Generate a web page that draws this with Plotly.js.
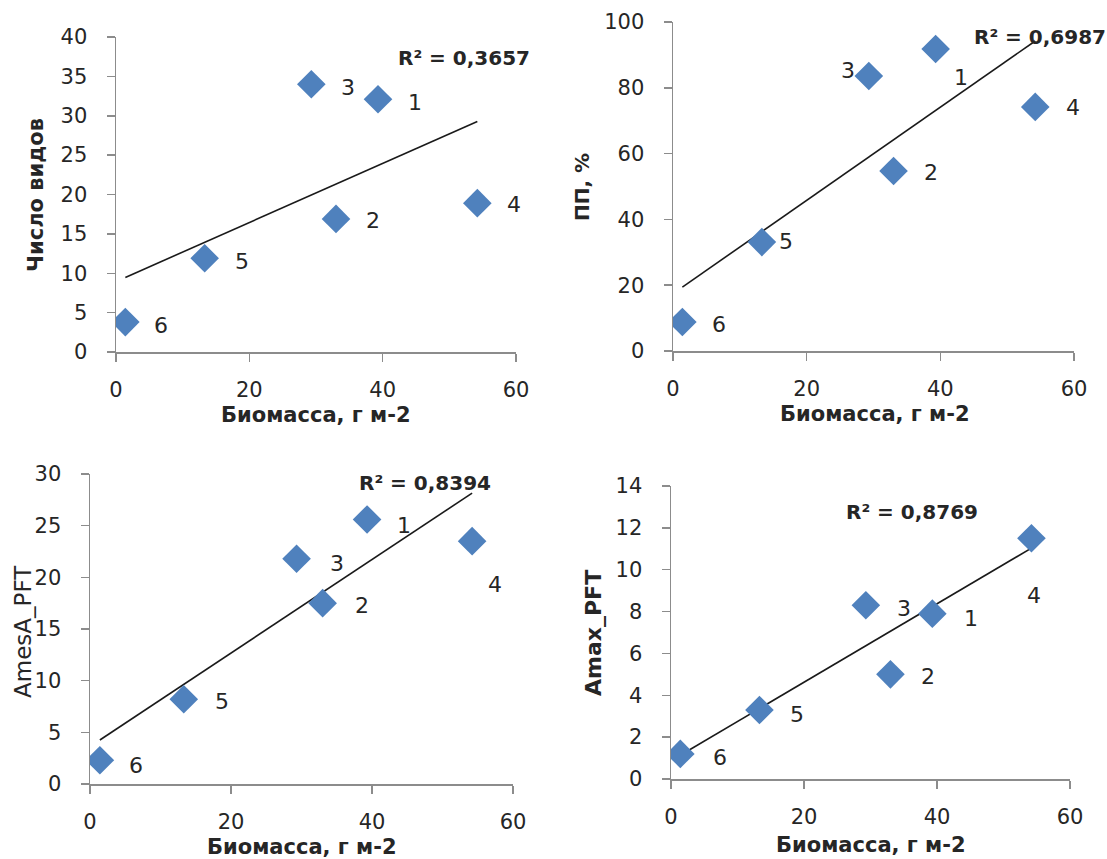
<!DOCTYPE html>
<html>
<head>
<meta charset="utf-8">
<script src="https://cdn.plot.ly/plotly-3.0.1.min.js"></script>
<style>
  html, body { margin: 0; padding: 0; background: #ffffff; }
  #chart { width: 1107px; height: 859px; }
</style>
</head>
<body>
<div id="chart"></div>
<script>
// ---- Data ----
const pointLabels = ['1', '2', '3', '4', '5', '6'];
const biomass = [39.3, 33.0, 29.3, 54.2, 13.3, 1.4];          // Биомасса, г м-2
const speciesCount = [32.1, 16.9, 34.0, 18.9, 11.9, 3.8];     // Число видов
const ppPercent = [91.8, 54.7, 83.6, 74.2, 33.1, 8.8];        // ПП, %
const amesA = [25.6, 17.5, 21.8, 23.5, 8.2, 2.3];             // AmesA_PFT
const amax = [7.9, 5.0, 8.3, 11.5, 3.3, 1.2];                 // Amax_PFT
const r2Labels = ['R² = 0,3657', 'R² = 0,6987', 'R² = 0,8394', 'R² = 0,8769'];
const yTitles = ['Число видов', 'ПП, %', 'AmesA_PFT', 'Amax_PFT'];
const xTitle = 'Биомасса, г м-2';
const xTicks = [0, 20, 40, 60];

// ---- Presentation config ----
const W = 1107, H = 859;
const FONT = 'DejaVu Sans, Arial, sans-serif';
const TXT = '#262626';
const series = [speciesCount, ppPercent, amesA, amax];
const panels = [
  { px: [116, 516], py: [352, 37],  yr: [0, 40],  dt: 5,
    r2: [464, 58], xt: [316, 415], yt: [36, 195], yBold: true, ySize: 21,
    off: [[37, 3], [37, 2], [37, 3], [37, 1], [37, 3], [36, 3]] },
  { px: [673, 1074], py: [351, 22], yr: [0, 100], dt: 20,
    r2: [1040, 37], xt: [875, 414], yt: [582, 187], yBold: true, ySize: 20,
    off: [[25, 29], [37, 1], [-21, -5], [38, 1], [24, -1], [37, 2]] },
  { px: [90, 513], py: [784, 474],  yr: [0, 30],  dt: 5,
    r2: [425, 483], xt: [302, 847], yt: [23, 632], yBold: false, ySize: 23,
    off: [[37, 6], [39, 2], [40, 5], [23, 43], [38, 2], [36, 5]] },
  { px: [671, 1070], py: [779, 486], yr: [0, 14], dt: 2,
    r2: [912, 512], xt: [871, 845], yt: [593, 633], yBold: true, ySize: 22,
    off: [[39, 5], [38, 2], [38, 3], [3, 57], [38, 5], [40, 4]] }
];

function linFit(xs, ys) {
  const n = xs.length;
  const mx = xs.reduce((a, b) => a + b, 0) / n;
  const my = ys.reduce((a, b) => a + b, 0) / n;
  let sxy = 0, sxx = 0;
  for (let i = 0; i < n; i++) { sxy += (xs[i] - mx) * (ys[i] - my); sxx += (xs[i] - mx) ** 2; }
  const slope = sxy / sxx;
  return { slope, intercept: my - slope * mx };
}

const traces = [];
const annotations = [];
const layout = {
  width: W, height: H,
  margin: { l: 0, r: 0, t: 0, b: 0 },
  paper_bgcolor: '#ffffff', plot_bgcolor: '#ffffff',
  showlegend: false,
  font: { family: FONT, size: 21, color: TXT },
  annotations: annotations
};

panels.forEach((p, k) => {
  const n = k === 0 ? '' : String(k + 1);
  const xa = 'x' + n, ya = 'y' + n;
  const ys = series[k];
  const fit = linFit(biomass, ys);
  const xmin = Math.min(...biomass), xmax = Math.max(...biomass);

  traces.push({
    type: 'scatter', mode: 'lines', xaxis: xa, yaxis: ya,
    x: [xmin, xmax],
    y: [fit.intercept + fit.slope * xmin, fit.intercept + fit.slope * xmax],
    line: { color: '#1a1a1a', width: 1.6 }, hoverinfo: 'skip'
  });
  traces.push({
    type: 'scatter', mode: 'markers', xaxis: xa, yaxis: ya,
    x: biomass, y: ys, text: pointLabels,
    marker: { symbol: 'diamond', size: 22, color: '#4F81BD', line: { width: 0 } }
  });

  const axisCommon = {
    showgrid: false, zeroline: false, showline: true,
    linecolor: '#8c8c8c', linewidth: 1.5,
    ticks: 'outside', ticklen: 8, tickwidth: 1.5, tickcolor: '#8c8c8c',
    tickfont: { family: FONT, size: 21, color: TXT },
    fixedrange: true
  };
  layout['xaxis' + n] = Object.assign({}, axisCommon, {
    domain: [p.px[0] / W, p.px[1] / W],
    anchor: ya, range: [0, 60], tickvals: xTicks,
    ticklabelstandoff: 10
  });
  layout['yaxis' + n] = Object.assign({}, axisCommon, {
    domain: [1 - p.py[0] / H, 1 - p.py[1] / H],
    anchor: xa, range: p.yr, dtick: p.dt, tick0: 0,
    ticklabelstandoff: 15
  });

  // axis titles
  annotations.push({
    xref: 'paper', yref: 'paper', x: p.xt[0] / W, y: 1 - p.xt[1] / H,
    xanchor: 'center', yanchor: 'middle', showarrow: false,
    text: xTitle,
    font: { family: FONT, size: 21, color: TXT, weight: 'bold' }
  });
  annotations.push({
    xref: 'paper', yref: 'paper', x: p.yt[0] / W, y: 1 - p.yt[1] / H,
    xanchor: 'center', yanchor: 'middle', showarrow: false, textangle: -90,
    text: yTitles[k],
    font: { family: FONT, size: p.ySize, color: TXT, weight: p.yBold ? 'bold' : 'normal' }
  });

  annotations.push({
    xref: 'paper', yref: 'paper', x: p.r2[0] / W, y: 1 - p.r2[1] / H,
    xanchor: 'center', yanchor: 'middle', showarrow: false,
    text: r2Labels[k],
    font: { family: FONT, size: 20, color: TXT, weight: 'bold' }
  });

  pointLabels.forEach((lab, i) => {
    annotations.push({
      xref: xa, yref: ya, x: biomass[i], y: ys[i],
      xshift: p.off[i][0], yshift: -p.off[i][1],
      xanchor: 'center', yanchor: 'middle', showarrow: false,
      text: lab, font: { family: FONT, size: 22, color: TXT }
    });
  });
});

Plotly.newPlot('chart', traces, layout, { staticPlot: true, displayModeBar: false });
</script>
</body>
</html>
